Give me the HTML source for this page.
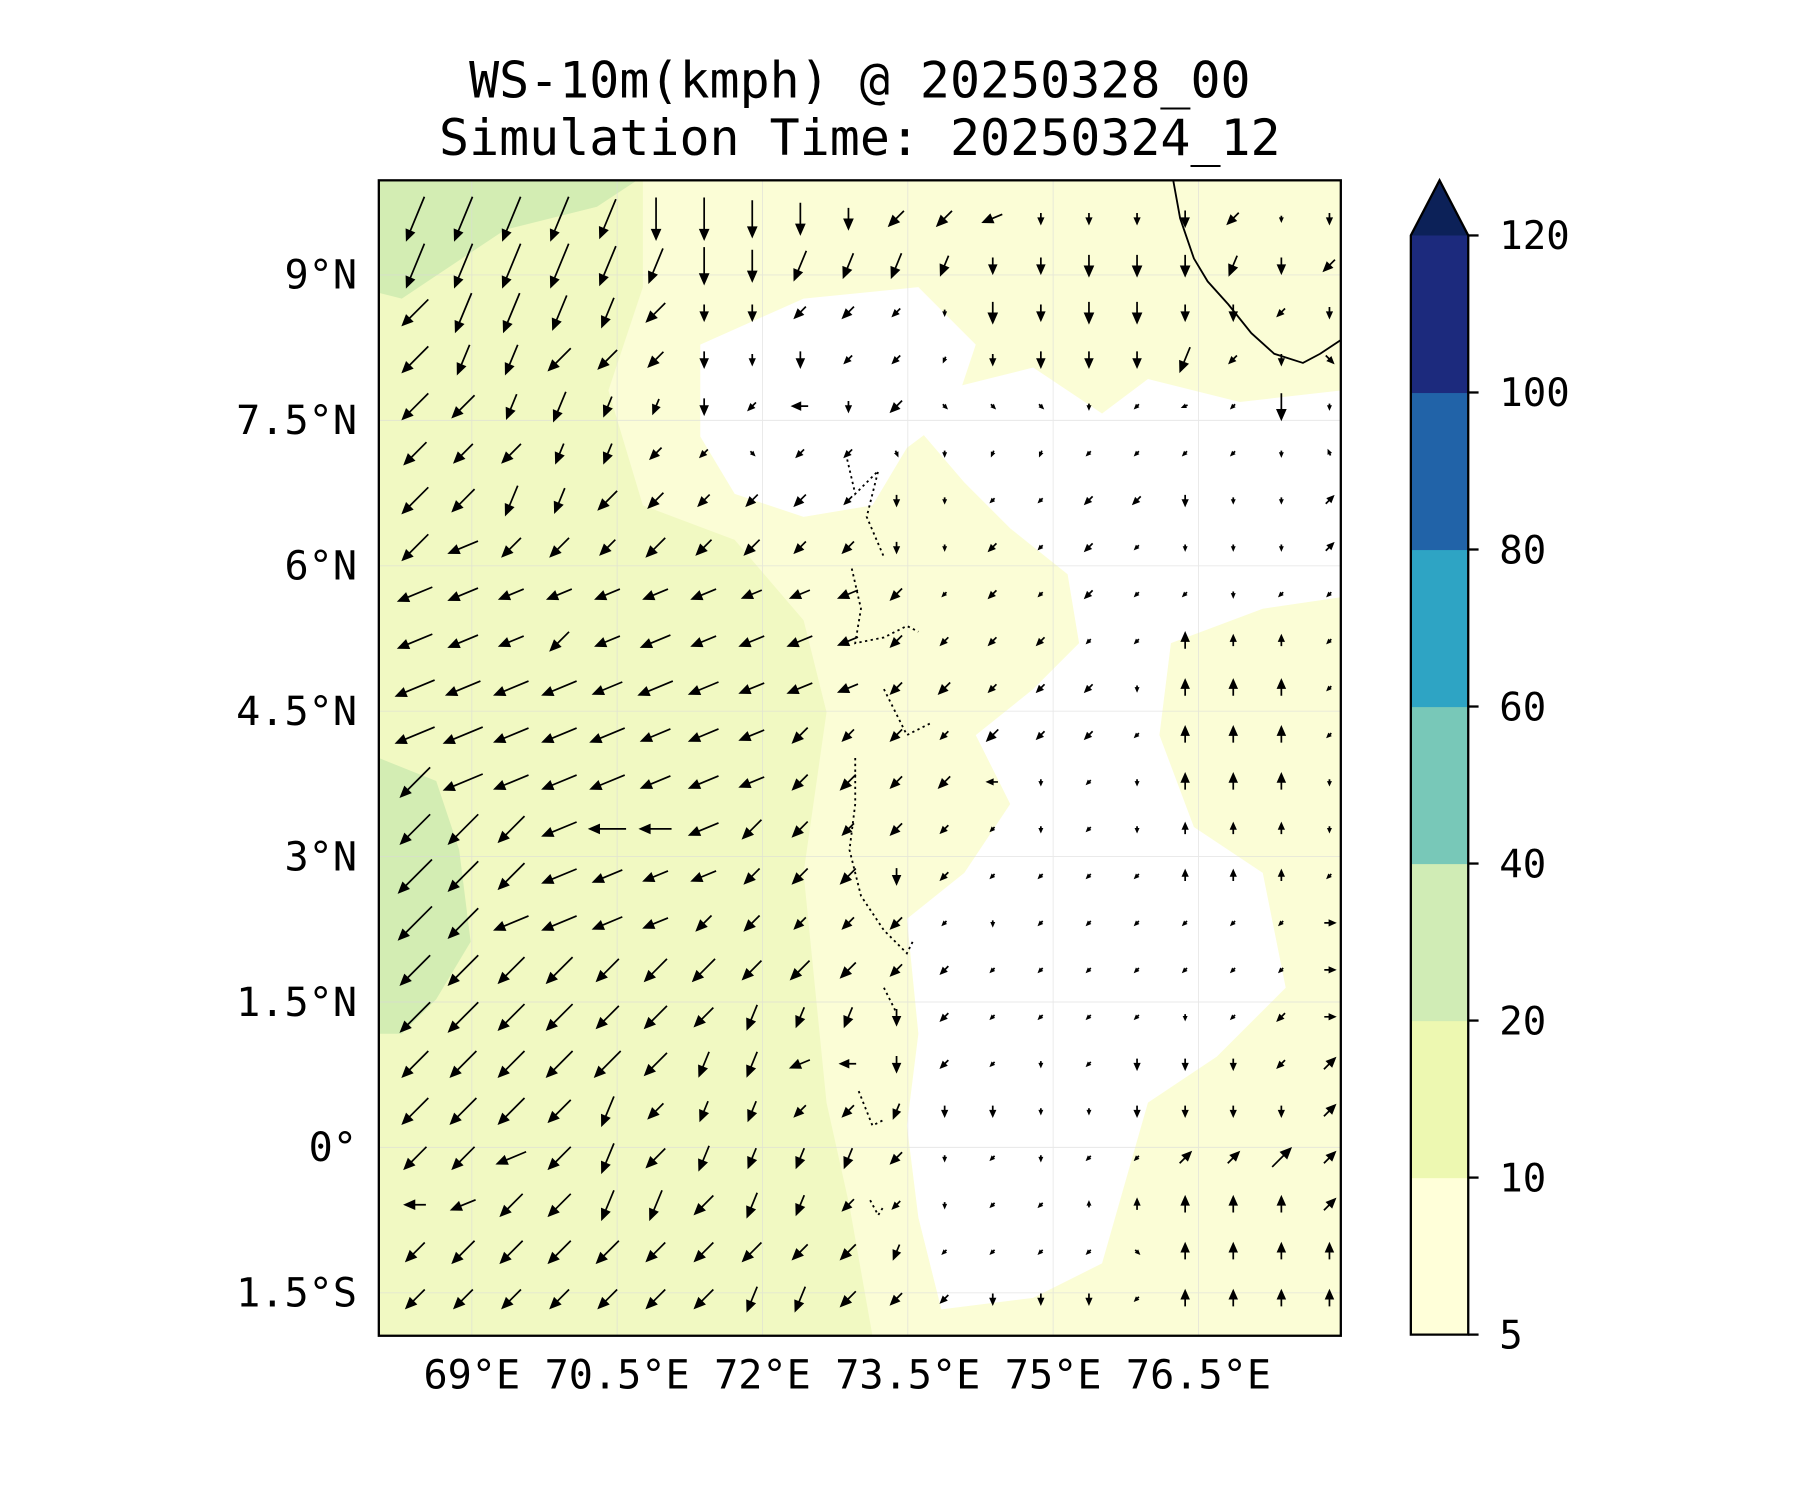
<!DOCTYPE html>
<html><head><meta charset="utf-8">
<style>
html,body{margin:0;padding:0;background:#fff;}
svg{display:block;}
text{font-family:"DejaVu Sans Mono","Liberation Mono",monospace;fill:#000;}
</style></head>
<body>
<svg id="chart" width="1800" height="1500" viewBox="0 0 1568 1306" preserveAspectRatio="none" xmlns="http://www.w3.org/2000/svg">
<rect width="1568" height="1306" fill="#fff"/>
<text x="749" y="85" font-size="43.5" text-anchor="middle">WS-10m(kmph) @ 20250328_00</text>
<text x="749" y="135" font-size="43.5" text-anchor="middle">Simulation Time: 20250324_12</text>
<defs><clipPath id="mapclip"><rect x="330" y="157" width="838" height="1006"/></clipPath></defs>
<g id="map" clip-path="url(#mapclip)">
 <rect x="330" y="157" width="838" height="1006" fill="#f1f9c2"/>
 <path fill="#fbfdd6" d="M560 157 L1168 157 L1168 1163 L760 1163 L740 1050 L720 960 L700 760 L720 620 L700 540 L640 470 L560 440 L530 340 L560 250 Z"/>
 <path fill="#d3edb3" d="M330 157 L555 157 L520 180 L440 200 L380 240 L350 260 L330 255 Z"/>
 <path fill="#d3edb3" d="M330 660 L380 680 L400 740 L410 820 L380 870 L350 900 L330 900 Z"/>
 <path fill="#fff" d="M610 300 L700 260 L800 250 L850 300 L830 360 L790 390 L760 440 L700 450 L640 430 L610 380 Z"/>
 <path fill="#fff" d="M780 350 L900 320 L960 360 L1000 330 L1080 350 L1168 340 L1168 520 L1100 530 L1020 560 L1010 640 L1040 720 L1100 760 L1120 860 L1060 920 L1000 960 L980 1030 L960 1100 L900 1130 L820 1140 L800 1060 L790 980 L800 900 L790 800 L840 760 L880 700 L850 640 L900 600 L940 560 L930 500 L880 460 L840 420 Z"/>
 <g id="grid" stroke="#d9d9d9" stroke-width="0.8" opacity="0.6"></g>
 <path fill="none" stroke="#000" stroke-width="1.6" d="M1022 157 L1028 190 L1040 225 L1052 245 L1070 265 L1090 290 L1110 308 L1135 316 L1150 308 L1168 296"/>
 <path fill="none" stroke="#000" stroke-width="1.6" stroke-dasharray="2,3" d="M738 400 L745 430 L765 410 L755 450 L770 485 M742 495 L750 530 L745 560 L770 555 L790 545 L800 550 M770 600 L790 640 L810 630 M745 660 L745 700 L740 740 L750 780 L770 810 L790 830 L795 820 M770 860 L780 880 M748 950 L760 980 L770 975 M758 1045 L765 1058 L770 1050"/>
 <g id="arrows"></g>
</g>
<rect x="330" y="157" width="838" height="1006" fill="none" stroke="#000" stroke-width="2"/>
<g id="axes"></g>
<g id="cbar"></g>
</svg>
<script>
const lonTicks=[69,70.5,72,73.5,75,76.5];
const lonLabels=["69°E","70.5°E","72°E","73.5°E","75°E","76.5°E"];
const latTicks=[9,7.5,6,4.5,3,1.5,0,-1.5];
const latLabels=["9°N","7.5°N","6°N","4.5°N","3°N","1.5°N","0°","1.5°S"];
const cbLevels=[5,10,20,40,60,80,100,120];
const cbColors=["#ffffd9","#edf8b1","#d0ecb5","#78c8b8","#2ea4c4","#2163a8","#1c2a7d"];
const windRows=[
"J9 J9 J9 J9 J8 I8 I8 I7 I6 I4 K4 K4 L4 I2 I2 I2 I3 K3 I1 I2",
"J9 J9 J9 J9 J8 J7 I7 I6 J6 J5 J5 J4 I3 I3 I4 I4 I4 J4 I3 K3",
"K7 J8 J8 J7 J6 K5 I3 I3 K3 K3 K2 I1 I4 I3 I4 I4 I3 I3 K2 I2",
"K7 J6 J6 K6 K5 K4 I3 I2 I3 K2 K2 J1 I2 I3 I3 I3 J5 K2 I2 G2",
"K7 K6 J5 J6 J4 J3 I3 K2 M3 I2 K3 G1 G1 G1 I1 K1 L1 K1 I5 I1",
"K6 K5 K5 J4 J4 K3 K2 G1 K2 K2 H1 I1 J1 J1 K1 K1 K1 K1 I1 P1",
"K7 K6 J6 J5 K5 K4 K3 K3 K3 K2 I2 I1 K1 K1 K2 K2 I2 I1 I1 C2",
"K7 L6 K5 K5 K4 K5 K4 K4 K3 K3 I2 I1 K2 K1 K2 K1 I1 I1 I1 C2",
"L7 L6 L5 L5 L5 L5 L5 L4 L4 L4 K3 K1 K2 K1 K2 K1 K1 I1 K1 K1",
"L7 L6 L5 K5 L5 L6 L5 L5 L5 L4 K3 K2 K2 K2 K1 K1 A3 A2 A2 K1",
"L8 L7 L7 L7 L6 L7 L6 L5 L5 L4 K3 K3 K2 K2 K2 I1 A3 A3 A3 K1",
"L8 L8 L7 L7 L7 L6 L6 L5 K4 K3 K3 K2 K3 K2 K2 K1 A3 A3 A3 K1",
"K8 L8 L7 L7 L7 L6 L6 L5 K4 K4 K3 K3 M2 I1 K1 I1 A3 A3 A3 I1",
"K8 K8 K7 L7 M7 M6 L6 K5 K4 K3 K3 K2 K1 I1 K1 I1 A2 A2 A2 I1",
"K9 K8 K7 L7 L6 L5 L5 K4 K4 K4 I3 K2 K1 K1 K1 K1 A2 A2 A2 K1",
"K9 K8 L7 L7 L6 L5 K4 K4 K3 K3 K3 K1 I1 K1 K1 K1 K1 K1 K1 E2",
"K8 K8 K7 K7 K6 K6 K6 K5 K5 K4 K3 K2 K1 K1 K1 K1 K1 K1 K1 E2",
"K8 K8 K7 K7 K6 K6 K5 J5 J4 J4 I3 K2 K1 K1 K1 K1 I1 K1 K2 E2",
"K7 K7 K7 K7 K7 K6 J5 J5 L4 M3 I3 K2 K1 I1 K1 I2 I2 I2 K2 C3",
"K7 K7 K7 K6 J6 K4 J4 J4 K3 K3 J3 I2 I2 I1 I1 I2 I2 I2 I2 C3",
"K6 K6 L6 K6 J6 K5 J5 J4 J4 J4 K3 I1 K1 I1 K1 K1 C3 C3 C5 C3",
"M4 L5 K6 K6 J6 J6 K5 J5 J4 K3 K2 I1 K1 K1 A1 A2 A3 A3 A3 C3",
"K5 K6 K6 K6 K6 K5 K5 K5 K4 K4 J3 K1 K1 K1 K1 G1 A3 A3 A3 A3",
"K5 K5 K5 K5 K5 K5 K5 J5 J5 K4 K3 K2 I2 I2 I2 K1 A3 A3 A3 A3"
];
const NS="http://www.w3.org/2000/svg";
function xOfLon(l){return 411+(l-69)*(126.6/1.5);}
function yOfLat(l){return 999-l*(126.6/1.5);}
const grid=document.getElementById('grid'),axes=document.getElementById('axes');
lonTicks.forEach((l,i)=>{
 const x=xOfLon(l);
 const g=document.createElementNS(NS,'line');g.setAttribute('x1',x);g.setAttribute('x2',x);g.setAttribute('y1',157);g.setAttribute('y2',1163);
 
 
 grid.appendChild(g);
 const t=document.createElementNS(NS,'text');t.setAttribute('x',x);t.setAttribute('y',1209);t.setAttribute('font-size','35');t.setAttribute('text-anchor','middle');t.textContent=lonLabels[i];
 
 
 axes.appendChild(t);
});
latTicks.forEach((l,i)=>{
 const y=yOfLat(l);
 const g=document.createElementNS(NS,'line');g.setAttribute('x1',330);g.setAttribute('x2',1168);g.setAttribute('y1',y);g.setAttribute('y2',y);
 
 
 grid.appendChild(g);
 const t=document.createElementNS(NS,'text');t.setAttribute('x',311);t.setAttribute('y',y+12);t.setAttribute('font-size','35');t.setAttribute('text-anchor','end');t.textContent=latLabels[i];
 
 
 axes.appendChild(t);
});
const arrows=document.getElementById('arrows');
const dirs="ABCDEFGHIJKLMNOP";
windRows.forEach((row,r)=>{
 row.split(' ').forEach((tok,c)=>{
  const ang=dirs.indexOf(tok[0])*22.5*Math.PI/180;
  const len=parseInt(tok[1])*4.5;
  const cx=362+c*41.9, cy=190+r*40.9;
  const dx=Math.sin(ang), dy=-Math.cos(ang);
  const x0=cx-dx*len/2, y0=cy-dy*len/2, x1=cx+dx*len/2, y1=cy+dy*len/2;
  const hl=Math.min(8,len*0.5), hw=Math.min(3.5,len*0.22);
  const bx=x1-dx*hl, by=y1-dy*hl, px=-dy, py=dx;
  const p=document.createElementNS(NS,'path');
  p.setAttribute('d',`M${x0.toFixed(1)} ${y0.toFixed(1)} L${bx.toFixed(1)} ${by.toFixed(1)} M${(bx+px*hw).toFixed(1)} ${(by+py*hw).toFixed(1)} L${x1.toFixed(1)} ${y1.toFixed(1)} L${(bx-px*hw).toFixed(1)} ${(by-py*hw).toFixed(1)} Z`);
  p.setAttribute('stroke','#000');p.setAttribute('stroke-width','1.5');p.setAttribute('fill','#000');
  
  
  arrows.appendChild(p);
 });
});
const cb=document.getElementById('cbar');
const cbTop=205, cbBot=1162, cbX=1229, cbW=50;
const seg=(cbBot-cbTop)/(cbLevels.length-1);
cbColors.forEach((col,i)=>{
 const r=document.createElementNS(NS,'rect');
 r.setAttribute('x',cbX);r.setAttribute('y',cbBot-(i+1)*seg);r.setAttribute('width',cbW);r.setAttribute('height',seg+0.5);r.setAttribute('fill',col);
 
 
 cb.appendChild(r);
});
const tri=document.createElementNS(NS,'path');
tri.setAttribute('d',`M${cbX} ${cbTop} L${cbX+cbW/2} 157 L${cbX+cbW} ${cbTop} Z`);tri.setAttribute('fill','#0c2158');


cb.appendChild(tri);
const outline=document.createElementNS(NS,'path');
outline.setAttribute('d',`M${cbX} ${cbBot} L${cbX} ${cbTop} L${cbX+cbW/2} 157 L${cbX+cbW} ${cbTop} L${cbX+cbW} ${cbBot} Z`);
outline.setAttribute('fill','none');outline.setAttribute('stroke','#000');outline.setAttribute('stroke-width','2');


cb.appendChild(outline);
cbLevels.forEach((v,i)=>{
 const y=cbBot-i*seg;
 const tk=document.createElementNS(NS,'line');tk.setAttribute('x1',cbX+cbW);tk.setAttribute('x2',cbX+cbW+9);tk.setAttribute('y1',y);tk.setAttribute('y2',y);tk.setAttribute('stroke','#000');tk.setAttribute('stroke-width','2');
 
 
 cb.appendChild(tk);
 const t=document.createElementNS(NS,'text');t.setAttribute('x',1306);t.setAttribute('y',y+12);t.setAttribute('font-size','34');t.textContent=v;
 
 
 cb.appendChild(t);
});
</script>
</body></html>
